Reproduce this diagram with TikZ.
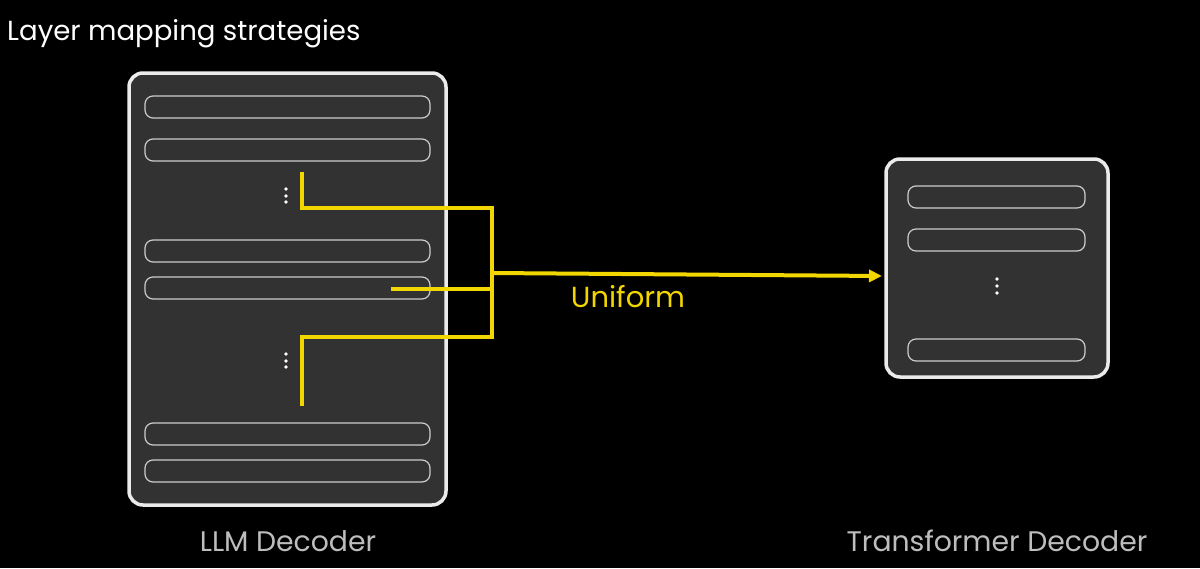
\documentclass[tikz,border=0pt]{standalone}
\usepackage{fontspec}
\setmainfont{Poppins}
\usetikzlibrary{arrows.meta}
\definecolor{panel}{HTML}{323232}
\definecolor{ylw}{HTML}{F2D600}
\definecolor{lbl}{HTML}{BDBDBD}
\tikzset{
  x=1pt,y=-1pt,
  outerbox/.style={draw=white!92!black,line width=3.5pt,fill=panel,rounded corners=14pt,inner sep=0pt},
  bar/.style={draw=white!80!black,line width=1.2pt,rounded corners=8pt,inner sep=0pt},
  vdot/.style={circle,fill=white,inner sep=0pt,minimum size=3.6pt},
  yline/.style={draw=ylw,line width=4pt},
  lab/.style={text=lbl,font=\fontsize{28.3}{32}\selectfont},
}
\begin{document}
\begin{tikzpicture}
\fill[black] (0,0) rectangle (1200,568);
\useasboundingbox (0,0) rectangle (1200,568);
% title
\node[anchor=west,text=white,font=\fontsize{27.6}{32}\selectfont,inner sep=0pt] (title) at (7,34) {Layer mapping strategies};
% left box
\path[outerbox] (129,73) rectangle (446,505);
\foreach \n/\ya/\yb in {1/96/118,2/139/161,3/240/262,4/277/299,5/423/445,6/460/482}{
  \path[bar] (145,\ya) rectangle (430,\yb);
}
\foreach \y in {189,196,202}{\node[vdot] at (286,\y) {};}
\foreach \y in {354,361,367}{\node[vdot] at (286,\y) {};}
% right box
\path[outerbox] (886,159) rectangle (1108,377);
\foreach \ya/\yb in {186/208,229/251,339/361}{
  \path[bar] (908,\ya) rectangle (1085,\yb);
}
\foreach \y in {279,286,293}{\node[vdot] at (997,\y) {};}
% yellow connectors
\coordinate (a1) at (302,172);
\coordinate (a2) at (391,289);
\coordinate (a3) at (302,406);
\coordinate (jt) at (492,208);
\coordinate (jb) at (492,337);
\coordinate (jm) at (492,273);
\coordinate (tip) at (882,276);
\draw[yline,line join=miter] (a1) |- (jt) -- (jb) -| (a3);
\draw[yline] (a2) -- (a2 -| jt);
\draw[yline,-{Triangle[length=13pt,width=12pt]}] (jm) -- (tip);
\node[text=ylw,font=\fontsize{29}{32}\selectfont] (uni) at (628,297) {Uniform};
% labels
\node[lab] (llm) at (288,541) {LLM Decoder};
\node[lab] (tr) at (997,541) {Transformer Decoder};
\end{tikzpicture}
\end{document}
